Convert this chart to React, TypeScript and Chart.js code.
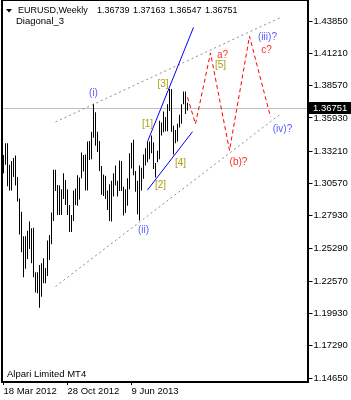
import { useEffect, useRef } from 'react';
import { Chart, registerables } from 'chart.js';

Chart.register(...registerables);

// Weekly bars (high / low), one per week from 18 Mar 2012
const barHighs = [
  1.3290, 1.3385, 1.3385, 1.3210, 1.3240, 1.3265, 1.3285, 1.3110, 1.2935, 1.2825,
  1.2625, 1.2625, 1.2670, 1.2745, 1.2690, 1.2695, 1.2330, 1.2330, 1.2390, 1.2405,
  1.2445, 1.2365, 1.2590, 1.2635, 1.2820, 1.3170, 1.3170, 1.3045, 1.3040, 1.3010,
  1.3140, 1.3085, 1.3010, 1.2880, 1.2800, 1.3000, 1.3015, 1.3125, 1.3105, 1.3310,
  1.3290, 1.3295, 1.3400, 1.3405, 1.3480, 1.3710, 1.3640, 1.3480, 1.3405, 1.3200,
  1.3130, 1.3120, 1.3000, 1.3050, 1.3080, 1.3140, 1.3205, 1.3080, 1.3245, 1.3240,
  1.3030, 1.3010, 1.3100, 1.3305, 1.3390, 1.3415, 1.3160, 1.3080, 1.3205, 1.3185,
  1.3295, 1.3345, 1.3400, 1.3400, 1.3450, 1.3395, 1.3225, 1.3325, 1.3570, 1.3555,
  1.3645, 1.3600, 1.3705, 1.3830, 1.3830, 1.3530, 1.3495, 1.3545, 1.3620, 1.3705,
  1.3810, 1.3810, 1.37163,
];
const barLows = [
  1.3140, 1.3210, 1.3035, 1.3000, 1.3000, 1.3110, 1.3040, 1.2910, 1.2640, 1.2495,
  1.2290, 1.2360, 1.2440, 1.2520, 1.2405, 1.2290, 1.2165, 1.2160, 1.2040, 1.2130,
  1.2240, 1.2240, 1.2300, 1.2430, 1.2560, 1.2750, 1.2995, 1.2800, 1.2800, 1.2800,
  1.2930, 1.2880, 1.2800, 1.2660, 1.2660, 1.2750, 1.2880, 1.2875, 1.2925, 1.3100,
  1.3155, 1.3000, 1.3000, 1.3250, 1.3255, 1.3430, 1.3365, 1.3315, 1.3160, 1.2965,
  1.2955, 1.2930, 1.2840, 1.2750, 1.2745, 1.2950, 1.3040, 1.2950, 1.2995, 1.2995,
  1.2795, 1.2815, 1.2875, 1.3010, 1.3180, 1.3125, 1.2990, 1.2805, 1.2755, 1.3000,
  1.3095, 1.3205, 1.3230, 1.3255, 1.3305, 1.3175, 1.3105, 1.3230, 1.3255, 1.3450,
  1.3475, 1.3485, 1.3485, 1.3650, 1.3480, 1.3295, 1.3385, 1.3400, 1.3515, 1.3545,
  1.3705, 1.3625, 1.36547,
];

const slotCount = 153;
const xTickIndex = [0, 32, 64];
const xTickText = ['18 Mar 2012', '28 Oct 2012', '9 Jun 2013'];

const yTicks = [
  1.4385, 1.4121, 1.3857, 1.3593, 1.3321, 1.3057,
  1.2793, 1.2529, 1.2257, 1.1993, 1.1729, 1.1465,
];
const yMin = 1.1433;
const yMax = 1.4503;

const symbolTitle = 'EURUSD,Weekly';
const titleValues = ['1.36739', '1.37163', '1.36547', '1.36751'];
const indicatorName = 'Diagonal_3';
const brokerName = 'Alpari Limited MT4';
const lastPrice = 1.36751;

// annotation geometry in (bar index, price)
const upperChannel = [[26, 1.3560], [138.5, 1.4415]];
const lowerChannel = [[26, 1.2214], [138.5, 1.3625]];
const blueUpper = [[72, 1.3399], [95, 1.4334]];
const blueLower = [[72, 1.3004], [94.5, 1.3480]];
const projection = [
  [92, 1.3762], [96, 1.3544], [103.5, 1.4125],
  [113, 1.3327], [123, 1.4262], [133.5, 1.3601],
];

const waveText = ['(i)', '(ii)', '[1]', '[2]', '[3]', '[4]', '[5]', 'a?', '(iii)?', 'c?', '(b)?', '(iv)?'];
const waveIndex = [45, 70, 72, 78.5, 79.75, 88.5, 108.5, 109.5, 132, 131.5, 117.5, 139.5];
const wavePrice = [1.3794, 1.2674, 1.3544, 1.3039, 1.3867, 1.3226, 1.4020, 1.4109, 1.4251, 1.4149, 1.3228, 1.3504];
const waveKind = ['blue', 'blue', 'gold', 'gold', 'gold', 'gold', 'gold', 'red', 'blue', 'red', 'red', 'blue'];

const kindColor: Record<string, string> = {
  blue: '#5a5aff',
  red: '#ff3030',
  gold: '#a8a010',
};

const FONT = '"Liberation Sans", Arial, sans-serif';

export default function App() {
  const ref = useRef<HTMLCanvasElement | null>(null);

  useEffect(() => {
    const canvas = ref.current;
    if (!canvas) return;

    const labels: string[] = [];
    for (let i = 0; i < slotCount; i++) {
      const k = xTickIndex.indexOf(i);
      labels.push(k >= 0 ? xTickText[k] : '');
    }
    const data = barHighs.map((h, i) => [barLows[i], h]);

    const overlay = {
      id: 'overlay',
      beforeDraw(chart: any) {
        const c = chart.ctx;
        c.save();
        c.fillStyle = '#ffffff';
        c.fillRect(0, 0, chart.width, chart.height);
        c.restore();
      },
      beforeDatasetsDraw(chart: any) {
        const c = chart.ctx;
        const a = chart.chartArea;
        const y = Math.round(chart.scales.y.getPixelForValue(lastPrice)) + 0.5;
        c.save();
        c.strokeStyle = '#c0c0c0';
        c.lineWidth = 1;
        c.beginPath();
        c.moveTo(a.left, y);
        c.lineTo(a.right, y);
        c.stroke();
        c.restore();
      },
      afterDatasetsDraw(chart: any) {
        const c = chart.ctx;
        const xs = chart.scales.x;
        const ys = chart.scales.y;
        const px = (i: number) => xs.getPixelForValue(i);
        const py = (p: number) => ys.getPixelForValue(p);
        const path = (pts: number[][], color: string, dash: number[]) => {
          c.save();
          c.strokeStyle = color;
          c.lineWidth = 1;
          c.setLineDash(dash);
          c.beginPath();
          pts.forEach((pt, k) => {
            if (k === 0) c.moveTo(px(pt[0]), py(pt[1]));
            else c.lineTo(px(pt[0]), py(pt[1]));
          });
          c.stroke();
          c.restore();
        };
        path(upperChannel, '#8c8c8c', [2, 3]);
        path(lowerChannel, '#8c8c8c', [2, 3]);
        path(blueUpper, '#0000ff', []);
        path(blueLower, '#0000ff', []);
        path(projection, '#ff0000', [4, 3]);

        c.save();
        c.font = '10px ' + FONT;
        c.textAlign = 'center';
        c.textBaseline = 'middle';
        waveText.forEach((t, k) => {
          c.fillStyle = kindColor[waveKind[k]];
          c.fillText(t, px(waveIndex[k]), py(wavePrice[k]));
        });
        c.restore();
      },
      afterDraw(chart: any) {
        const c = chart.ctx;
        c.save();
        // frame
        c.strokeStyle = '#000000';
        c.lineWidth = 1;
        c.beginPath();
        c.moveTo(1.5, 0.5);
        c.lineTo(307.5, 0.5);
        c.stroke();
        c.lineWidth = 2;
        c.beginPath();
        c.moveTo(2, 0);
        c.lineTo(2, 382);
        c.moveTo(1, 382);
        c.lineTo(308, 382);
        c.moveTo(308, 0);
        c.lineTo(308, 383);
        c.stroke();

        // last price box
        const y = Math.round(chart.scales.y.getPixelForValue(lastPrice));
        c.fillStyle = '#000000';
        c.fillRect(309, y - 6, 42, 12);
        c.fillStyle = '#ffffff';
        c.font = '9.5px ' + FONT;
        c.textAlign = 'left';
        c.textBaseline = 'middle';
        c.fillText(lastPrice.toFixed(5), 313, y);

        // title
        c.fillStyle = '#000000';
        c.beginPath();
        c.moveTo(6, 9);
        c.lineTo(12, 9);
        c.lineTo(9, 12.5);
        c.closePath();
        c.fill();
        c.font = '9px ' + FONT;
        c.textAlign = 'left';
        c.textBaseline = 'middle';
        c.fillText(symbolTitle, 18, 11);
        titleValues.forEach((v, k) => c.fillText(v, 97 + k * 36, 11));
        c.font = '9.5px ' + FONT;
        c.fillText(indicatorName, 16, 21);
        c.fillText(brokerName, 7, 374);
        c.restore();
      },
    };

    const chart = new Chart(canvas, {
      type: 'bar',
      data: {
        labels,
        datasets: [
          {
            data: data as any,
            backgroundColor: '#000000',
            borderWidth: 0,
            barThickness: 1,
            inflateAmount: 0,
          } as any,
        ],
      },
      options: {
        responsive: false,
        animation: false,
        devicePixelRatio: 1,
        layout: { padding: { left: 2.5, top: 1, right: 0, bottom: 0 } },
        plugins: {
          legend: { display: false },
          tooltip: { enabled: false },
          title: { display: false },
        },
        scales: {
          x: {
            type: 'category',
            offset: true,
            grid: {
              display: true,
              offset: false,
              drawOnChartArea: false,
              drawTicks: true,
              tickLength: 3,
              tickColor: (ctx: any) => (labels[ctx.index] ? '#000000' : 'rgba(0,0,0,0)'),
            },
            border: { display: false },
            ticks: {
              autoSkip: false,
              maxRotation: 0,
              minRotation: 0,
              align: 'start',
              padding: 1,
              color: '#000000',
              font: { family: FONT, size: 9.5 },
              callback: (_v: any, i: number) => labels[i],
            },
            afterFit: (s: any) => {
              s.height = 18;
            },
          },
          y: {
            type: 'linear',
            position: 'right',
            min: yMin,
            max: yMax,
            afterBuildTicks: (s: any) => {
              s.ticks = yTicks.map((v) => ({ value: v }));
            },
            grid: {
              drawOnChartArea: false,
              drawTicks: true,
              tickLength: 4,
              tickColor: '#000000',
            },
            border: { display: false },
            ticks: {
              padding: 1,
              color: '#000000',
              font: { family: FONT, size: 9.5 },
              callback: (v: any) => Number(v).toFixed(5),
            },
            afterFit: (s: any) => {
              s.width = 42.5;
            },
          },
        },
      } as any,
      plugins: [overlay],
    });

    return () => chart.destroy();
  }, []);

  return (
    <div style={{ position: 'fixed', left: 0, top: 0, width: 351, height: 400, background: '#fff' }}>
      <canvas ref={ref} width={351} height={400} style={{ width: 351, height: 400, display: 'block' }} />
    </div>
  );
}
